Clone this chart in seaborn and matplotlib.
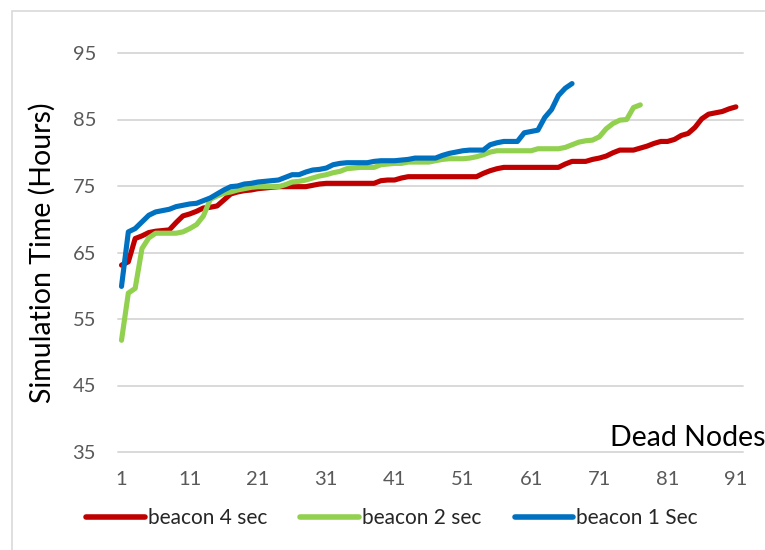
import matplotlib
matplotlib.use("Agg")
import matplotlib.pyplot as plt
import numpy as np
import pandas as pd
import seaborn as sns
from matplotlib.patches import Rectangle

# ---------------------------------------------------------------------------
# Data (x = dead nodes, y = simulation time in hours)
# ---------------------------------------------------------------------------
beacon_4_sec = [
    63.1, 63.6, 67.1, 67.5, 68.0, 68.2, 68.3, 68.4, 69.5, 70.5,
    70.8, 71.2, 71.7, 71.8, 72.0, 72.9, 73.8, 74.1, 74.3, 74.4,
    74.6, 74.7, 74.8, 74.9, 74.9, 74.9, 74.9, 74.9, 75.1, 75.3,
    75.4, 75.4, 75.4, 75.4, 75.4, 75.4, 75.4, 75.4, 75.8, 75.9,
    75.9, 76.2, 76.4, 76.4, 76.4, 76.4, 76.4, 76.4, 76.4, 76.4,
    76.4, 76.4, 76.4, 76.9, 77.3, 77.6, 77.8, 77.8, 77.8, 77.8,
    77.8, 77.8, 77.8, 77.8, 77.8, 78.3, 78.7, 78.7, 78.7, 79.0,
    79.2, 79.5, 80.0, 80.4, 80.4, 80.4, 80.7, 81.0, 81.4, 81.7,
    81.7, 82.0, 82.6, 82.9, 83.8, 85.1, 85.8, 86.0, 86.2, 86.6,
    86.9,
]
beacon_2_sec = [
    51.8, 58.9, 59.6, 65.6, 67.2, 67.9, 67.9, 67.9, 67.9, 68.1,
    68.6, 69.2, 70.5, 73.0, 73.5, 73.9, 74.1, 74.4, 74.6, 74.8,
    74.9, 74.9, 74.9, 74.9, 75.2, 75.6, 75.7, 75.9, 76.2, 76.5,
    76.7, 77.0, 77.2, 77.6, 77.7, 77.8, 77.8, 77.8, 78.2, 78.3,
    78.4, 78.4, 78.6, 78.6, 78.6, 78.6, 78.8, 79.0, 79.1, 79.1,
    79.1, 79.2, 79.4, 79.7, 80.1, 80.3, 80.3, 80.3, 80.3, 80.3,
    80.3, 80.6, 80.6, 80.6, 80.6, 80.8, 81.2, 81.6, 81.8, 81.9,
    82.4, 83.6, 84.4, 84.9, 85.0, 86.8, 87.2,
]
beacon_1_sec = [
    59.9, 68.1, 68.6, 69.6, 70.6, 71.1, 71.3, 71.5, 71.9, 72.1,
    72.3, 72.4, 72.8, 73.2, 73.8, 74.4, 74.9, 75.0, 75.3, 75.4,
    75.6, 75.7, 75.8, 75.9, 76.3, 76.7, 76.7, 77.1, 77.4, 77.5,
    77.7, 78.2, 78.4, 78.5, 78.5, 78.5, 78.5, 78.7, 78.8, 78.8,
    78.8, 78.9, 79.0, 79.2, 79.2, 79.2, 79.2, 79.6, 79.9, 80.1,
    80.3, 80.4, 80.4, 80.4, 81.2, 81.5, 81.7, 81.7, 81.7, 83.0,
    83.2, 83.4, 85.3, 86.5, 88.6, 89.7, 90.4,
]
series_names = ["beacon 4 sec", "beacon 2 sec", "beacon 1 Sec"]
x_ticks = [1, 11, 21, 31, 41, 51, 61, 71, 81, 91]
y_ticks = [35, 45, 55, 65, 75, 85, 95]

colors = ["#C00000", "#92D050", "#0070C0"]

frames = []
for name, vals in zip(series_names, [beacon_4_sec, beacon_2_sec, beacon_1_sec]):
    frames.append(pd.DataFrame({
        "Dead Nodes": np.arange(1, len(vals) + 1),
        "Hours": vals,
        "series": name,
    }))
df = pd.concat(frames, ignore_index=True)

sns.set_theme(style="white")
plt.rcParams["font.family"] = ["Lato", "DejaVu Sans"]

W, H = 765, 550
fig = plt.figure(figsize=(W / 100, H / 100), dpi=100)
ax = fig.add_axes([118.3 / W, (H - 452) / H, (742.7 - 118.3) / W, (452 - 53) / H])

# gridlines
for yv in y_ticks:
    ax.axhline(yv, color="#D9D9D9", linewidth=1.4, zorder=0)

sns.lineplot(
    data=df, x="Dead Nodes", y="Hours", hue="series",
    hue_order=series_names, palette=colors,
    linewidth=3.7, ax=ax, zorder=3,
)
for line in ax.get_lines():
    line.set_solid_capstyle("round")
    line.set_solid_joinstyle("round")
    line.set_clip_on(False)

ax.set_xlim(0.53, 92.0)
ax.set_ylim(35, 95)
ax.set_xticks(x_ticks)
ax.set_yticks(y_ticks)
ax.tick_params(axis="both", length=0, labelsize=14.5, labelcolor="#595959")
ax.tick_params(axis="y", pad=16)
ax.tick_params(axis="x", pad=14)
sns.despine(ax=ax, left=True, bottom=True)
ax.grid(False)

ax.set_xlabel("")
ax.set_ylabel("Simulation Time (Hours)", fontsize=20.5, color="black", labelpad=12)
fig.text(766 / W, (H - 446) / H, "Dead Nodes", fontsize=20.5, ha="right",
         va="baseline", color="black")

# legend
handles, labels = ax.get_legend_handles_labels()
for h in handles:
    h.set_linewidth(4.0)
    h.set_solid_capstyle("round")
ax.legend(handles, labels, loc="center", bbox_to_anchor=(392 / W, (H - 518) / H),
          bbox_transform=fig.transFigure, ncol=3, frameon=False, fontsize=15,
          handlelength=2.8, handletextpad=0.15, columnspacing=1.6)

# chart area border
fig.patches.append(Rectangle((12 / W, -0.05), 1.1, (H - 11) / H + 0.05,
                             transform=fig.transFigure, fill=False,
                             edgecolor="#D9D9D9", linewidth=1.2))

fig.savefig("out.png", dpi=100)
